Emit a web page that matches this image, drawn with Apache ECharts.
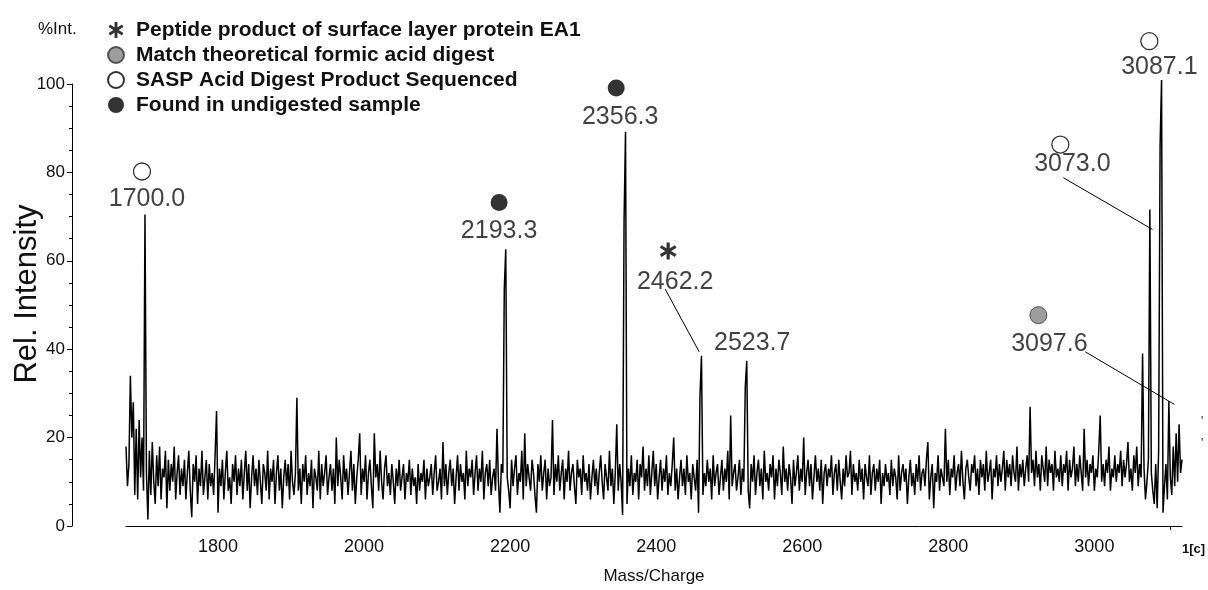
<!DOCTYPE html>
<html><head><meta charset="utf-8">
<script src="https://cdn.jsdelivr.net/npm/echarts@6/dist/echarts.min.js"></script>
<style>html,body{margin:0;padding:0;background:#fff}#c{width:1208px;height:590px}</style>
</head><body><div id="c"></div>
<script>
// ---- spectrum: intensity sampled every mzStep starting at mzStart ----
const mzStart = 1674, mzStep = 2;
const intensity = [
 18,9,14,34,20,28,7,22,6,24,11,20,8,70.5,12,1.5,17,7,19,10,
 5,16,9,18,6,13,11,17,4,15,8,14,10,18,6,12,16,7,13,9,
 15,6,12,17,8,2,14,10,16,5,13,9,17,7,11,15,6,14,9,12,
 7,16,26,3,13,9,15,6,12,17,8,11,5,14,10,16,7,13,9,15,
 6,12,17,8,14,4,11,16,9,13,7,15,10,5,14,12,8,17,6,13,
 10,15,5,12,16,8,13,4,11,15,9,14,6,17,10,7,12,29,8,13,
 5,14,10,16,7,12,9,15,4,13,11,8,17,6,14,9,12,16,7,11,
 14,8,13,5,20,9,15,11,6,16,10,13,7,12,17,8,14,5,11,15,
 21,7,13,10,16,6,12,15,9,4,21,11,14,8,17,10,6,13,16,9,
 12,7,14,10,5,13,9,15,8,11,14,6,12,10,15,7,13,9,11,5,
 14,8,12,10,15,6,13,9,11,14,7,12,16,8,10,13,6,19,9,14,
 7,12,15,9,13,5,11,16,8,14,10,12,6,17,9,13,11,15,7,12,
 16,8,13,10,17,6,12,14,9,15,7,11,13,8,22,10,3,14,12,53.6,
 62.6,11,8,4,15,9,13,16,7,12,10,17,6,21,9,14,11,8,15,12,
 7,3,14,10,16,8,12,15,6,13,9,11,24,7,14,10,16,8,12,15,
 6,13,10,17,8,12,14,9,5,15,11,13,7,16,10,12,8,14,6,11,
 15,9,13,7,12,16,10,6,14,11,8,17,9,13,5,12,23,8,14,10,
 2.5,68.7,89.2,5,13,9,16,7,12,10,15,6,14,11,18,8,13,9,16,7,
 12,17,9,14,6,11,15,8,13,10,16,7,12,9,14,20,8,13,6,11,
 15,9,13,7,16,10,12,6,14,11,8,15,3,29.5,38.5,7,12,9,15,10,
 13,6,16,9,12,14,7,11,15,8,13,10,17,6,25,9,12,14,8,11,
 15,7,13,10,31.5,37.4,8,4,14,10,16,7,12,15,9,13,6,17,10,12,
 8,14,11,16,6,13,9,15,12,7,18,10,13,8,14,11,5,15,9,12,
 16,8,13,10,20,7,12,15,9,14,6,11,16,10,13,8,15,5,12,14,
 9,13,11,16,7,12,14,8,15,10,6,13,9,16,11,12,17,7,14,10,
 12,8,15,10,13,6,14,11,9,16,7,12,14,8,13,10,15,5,12,9,
 14,10,12,7,15,9,13,11,6,16,8,12,14,10,13,5,11,15,9,12,
 7,14,10,16,8,12,13,9,15,19,6,11,14,4,12,10,16,8,13,11,
 9,22,10,15,7,13,11,16,8,12,14,9,17,10,6,13,15,11,8,14,
 12,16,9,13,7,15,11,14,8,17,10,12,15,6,13,11,16,9,14,10,
 13,17,8,15,11,14,9,16,12,10,18,8,14,11,15,9,13,16,10,27,
 12,15,9,17,11,14,8,16,13,10,18,9,15,12,14,8,17,11,13,10,
 16,9,14,12,17,8,15,11,13,18,9,14,10,16,12,8,22,11,15,9,
 14,12,16,8,13,11,17,25,10,14,9,15,12,18,8,13,11,16,10,14,
 12,17,9,15,11,14,19,10,13,8,16,12,18,9,14,11,39,13,6,10,
 15,71.6,12,8,5,14,4,17,85.8,100.9,3,9,14,6,28.2,11,7,18,9,21,
 10,23,12,15
];
const xTickValues = [1800, 2000, 2200, 2400, 2600, 2800, 3000];
const xExtraTick = [3104];

// ---- annotation classes (legend) ----
const classNames = [
  'Peptide product of surface layer protein EA1',
  'Match theoretical formic acid digest',
  'SASP Acid Digest Product Sequenced',
  'Found in undigested sample'
];
// marker positions (m/z, rel. intensity) per class
const starMarkers  = [[2416.4, 62.2]];
const grayMarkers  = [[2923.3, 47.7]];
const whiteMarkers = [[1695.9, 80.2], [2953.4, 86.3], [3075.3, 109.7]];
const blackMarkers = [[2184.9, 73.2], [2345.2, 99.1]];
// peak labels
const peakLabels = ['1700.0', '2193.3', '2356.3', '2462.2', '2523.7', '3073.0', '3087.1', '3097.6'];
const peakLabelMz  = [1702.7, 2184.9, 2350.7, 2426.0, 2531.5, 2969.9, 3089.0, 2938.4];
const peakLabelInt = [73.9, 66.7, 92.6, 55.2, 41.4, 81.8, 103.8, 41.2];
// leader lines from label to peak
const leaderFrom = [[2412.3, 53.6], [2957.5, 78.8], [2987.7, 39.4]];
const leaderTo   = [[2458.9, 39.4], [3079.5, 67.1], [3109.6, 27.5]];

const FONT = "'Liberation Sans', Arial, sans-serif";
const starPath = 'path://M41 0L59 0L59 100L41 100Z M87.3 15.4L96.3 31.0L12.7 84.6L3.7 69.0Z M3.7 31.0L12.7 15.4L96.3 69.0L87.3 84.6Z';

const spec = intensity.map((v, i) => [mzStart + i * mzStep, v]);

const chart = echarts.init(document.getElementById('c'), null, {renderer: 'canvas'});
chart.setOption({
  animation: false,
  backgroundColor: '#fff',
  title: {
    text: '%Int.', left: 33, top: 16,
    textStyle: {fontFamily: FONT, fontSize: 17, fontWeight: 'normal', color: '#111'}
  },
  legend: {
    data: classNames,
    orient: 'vertical', left: 102, top: 14,
    itemWidth: 16, itemHeight: 16, itemGap: 3,
    selectedMode: false,
    textStyle: {fontFamily: FONT, fontSize: 21, fontWeight: 'bold', color: '#111', lineHeight: 22, padding: [0, 0, 0, 7]}
  },
  grid: {left: 126, right: 26, top: 84, bottom: 62},
  xAxis: {
    type: 'value', min: 1674, max: 3120, offset: 2,
    name: 'Mass/Charge', nameLocation: 'middle', nameGap: 40,
    nameTextStyle: {fontFamily: FONT, fontSize: 17, color: '#111'},
    axisLine: {show: true, lineStyle: {color: '#000', width: 1}},
    axisTick: {show: true, customValues: xExtraTick, length: 4, lineStyle: {color: '#000'}},
    axisLabel: {customValues: xTickValues, margin: 10, fontFamily: FONT, fontSize: 18, color: '#111',
                formatter: v => String(v)},
    splitLine: {show: false}
  },
  yAxis: {
    type: 'value', min: 0, max: 100, interval: 20, offset: 54,
    axisLine: {show: true, lineStyle: {color: '#000', width: 1}},
    axisTick: {show: true, length: 5, lineStyle: {color: '#000'}},
    minorTick: {show: true, splitNumber: 4, length: 3, lineStyle: {color: '#000'}},
    axisLabel: {margin: 7, fontFamily: FONT, fontSize: 17, color: '#111', formatter: v => String(v)},
    splitLine: {show: false}
  },
  series: [
    {
      type: 'line', data: spec, showSymbol: false, symbol: 'none', clip: false, silent: true,
      lineStyle: {color: '#000', width: 1.5}, z: 2
    },
    {
      name: classNames[0], type: 'scatter', data: starMarkers, clip: false, silent: true,
      symbol: starPath, symbolSize: [18, 17], symbolKeepAspect: true,
      itemStyle: {color: '#000'}, z: 4
    },
    {
      name: classNames[1], type: 'scatter', data: grayMarkers, clip: false, silent: true,
      symbol: 'circle', symbolSize: 17,
      itemStyle: {color: '#858585', borderColor: '#333', borderWidth: 1}, z: 4
    },
    {
      name: classNames[2], type: 'scatter', data: whiteMarkers, clip: false, silent: true,
      symbol: 'circle', symbolSize: 17,
      itemStyle: {color: '#fff', borderColor: '#000', borderWidth: 1.3}, z: 4
    },
    {
      name: classNames[3], type: 'scatter', data: blackMarkers, clip: false, silent: true,
      symbol: 'circle', symbolSize: 17,
      itemStyle: {color: '#000'}, z: 4
    },
    {
      type: 'scatter', clip: false, silent: true, symbolSize: 0,
      data: peakLabels.map((t, i) => ({name: t, value: [peakLabelMz[i], peakLabelInt[i]]})),
      label: {show: true, position: 'inside', formatter: '{b}', fontFamily: FONT, fontSize: 25, color: '#111'},
      z: 5
    },
    {
      type: 'lines', coordinateSystem: 'cartesian2d', silent: true,
      data: leaderFrom.map((p, i) => ({coords: [p, leaderTo[i]]})),
      lineStyle: {color: '#000', width: 1, opacity: 1, curveness: 0}, z: 3
    }
  ],
  graphic: [
    {type: 'text', x: 27, y: 294, rotation: Math.PI / 2,
     style: {text: 'Rel. Intensity', align: 'center', verticalAlign: 'middle', fontFamily: FONT, fontSize: 31, fill: '#111'}},
    {type: 'text', left: 1182, top: 543, style: {text: '1[c]', fontFamily: FONT, fontSize: 13, fontWeight: 'bold', fill: '#111'}},
    {type: 'text', left: 1201, top: 416, style: {text: "'", fontFamily: FONT, fontSize: 12, fill: '#111'}},
    {type: 'text', left: 1201, top: 438, style: {text: "'", fontFamily: FONT, fontSize: 12, fill: '#111'}}
  ]
});
</script>
</body></html>
